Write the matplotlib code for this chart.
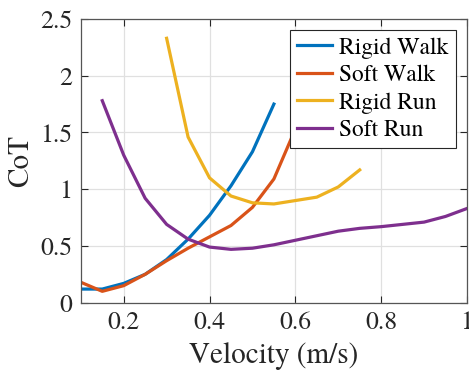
import matplotlib
matplotlib.use('Agg')
import matplotlib.pyplot as plt
from matplotlib.ticker import FormatStrFormatter

plt.rcParams['font.family'] = ['TeX Gyre Termes', 'STIXGeneral', 'DejaVu Serif']

# Dane
v_walk_rigid = [0.10, 0.15, 0.20, 0.25, 0.30, 0.35, 0.40, 0.45, 0.50, 0.55]
cot_walk_rigid = [0.12, 0.12, 0.17, 0.25, 0.38, 0.56, 0.77, 1.03, 1.33, 1.75]

v_walk_soft = [0.10, 0.15, 0.20, 0.25, 0.30, 0.35, 0.40, 0.45, 0.50, 0.55, 0.60]
cot_walk_soft = [0.18, 0.10, 0.15, 0.25, 0.37, 0.48, 0.58, 0.68, 0.84, 1.09, 1.53]

v_run_rigid = [0.30, 0.35, 0.40, 0.45, 0.50, 0.55, 0.60, 0.65, 0.70, 0.75]
cot_run_rigid = [2.33, 1.46, 1.10, 0.94, 0.88, 0.87, 0.90, 0.93, 1.02, 1.17]

v_run_soft = [0.15, 0.20, 0.25, 0.30, 0.35, 0.40, 0.45, 0.50, 0.55, 0.60,
              0.65, 0.70, 0.75, 0.80, 0.85, 0.90, 0.95, 1.00]
cot_run_soft = [1.78, 1.30, 0.92, 0.69, 0.56, 0.49, 0.47, 0.48, 0.51, 0.55,
                0.59, 0.63, 0.655, 0.67, 0.69, 0.71, 0.76, 0.83]

fig = plt.figure(figsize=(4.69, 3.76), dpi=100)
ax = fig.add_axes([0.1723, 0.195, 0.8234, 0.7545])

lw = 2.3
ax.plot(v_walk_rigid, cot_walk_rigid, color='#0072BD', lw=lw, label='Rigid Walk')
ax.plot(v_walk_soft, cot_walk_soft, color='#D95319', lw=lw, label='Soft Walk')
ax.plot(v_run_rigid, cot_run_rigid, color='#EDB120', lw=lw, label='Rigid Run')
ax.plot(v_run_soft, cot_run_soft, color='#7E2F8E', lw=lw, label='Soft Run')

ax.set_xlim(0.1, 1.0)
ax.set_ylim(0, 2.5)
ax.set_xticks([0.2, 0.4, 0.6, 0.8, 1.0])
ax.set_yticks([0, 0.5, 1, 1.5, 2, 2.5])
ax.xaxis.set_major_formatter(FormatStrFormatter('%g'))
ax.yaxis.set_major_formatter(FormatStrFormatter('%g'))
ax.tick_params(direction='in', top=True, right=True, labelsize=18.5,
               colors='#262626', length=5, width=0.8, pad=6)
ax.grid(True, color='#e0e0e0', lw=0.9)
ax.set_axisbelow(True)
for s in ax.spines.values():
    s.set_color('#555555')
    s.set_linewidth(0.9)

ax.set_xlabel('Velocity (m/s)', fontsize=21, color='#262626', labelpad=5)
ax.set_ylabel('CoT', fontsize=21, color='#262626', labelpad=4)

leg = ax.legend(loc='upper right', bbox_to_anchor=(0.971, 0.961),
                borderaxespad=0, fontsize=17, fancybox=False, framealpha=1,
                edgecolor='#262626', handlelength=1.5, handletextpad=0.3,
                labelspacing=0.25, borderpad=0.3)
leg.get_frame().set_linewidth(0.8)

fig.savefig('out.png', dpi=100)
